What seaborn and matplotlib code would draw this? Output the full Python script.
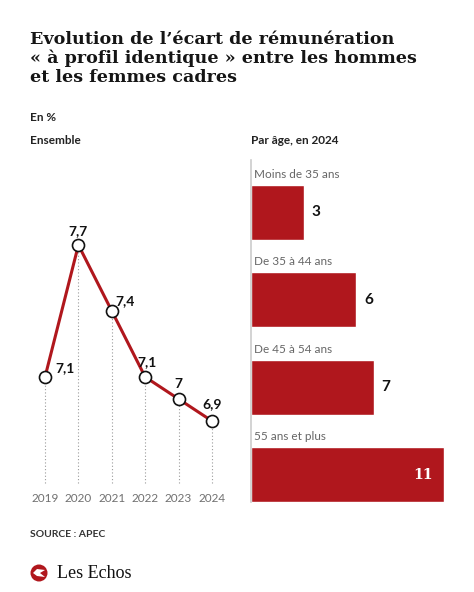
import matplotlib
matplotlib.use("Agg")
import matplotlib.pyplot as plt
import seaborn as sns
import pandas as pd
from matplotlib.patches import Circle, Polygon

# data
years = [2019, 2020, 2021, 2022, 2023, 2024]
gap_all = [7.1, 7.7, 7.4, 7.1, 7.0, 6.9]
gap_labels = ["7,1", "7,7", "7,4", "7,1", "7", "6,9"]

age_groups = ["Moins de 35 ans", "De 35 à 44 ans", "De 45 à 54 ans", "55 ans et plus"]
gap_age = [3, 6, 7, 11]

RED = "#b0171d"
SANS = "Lato"

sns.set_style("white")
plt.rcParams['font.family'] = [SANS, 'DejaVu Sans']

W, H = 474, 592
fig = plt.figure(figsize=(W / 100, H / 100), dpi=100)


def px_rect(x0, y0, x1, y1):
    # pixel box (top-left origin) -> figure coords
    return [x0 / W, 1 - y1 / H, (x1 - x0) / W, (y1 - y0) / H]


# titles
title = ("Evolution de l\u2019écart de rémunération\n"
         "« à profil identique » entre les hommes\n"
         "et les femmes cadres")
fig.text(30 / W, 1 - 31 / H, title, family="DejaVu Serif", weight="bold",
         fontsize=12.6, va="top", ha="left", color="#151515", linespacing=1.12)
fig.text(30 / W, 1 - 121 / H, "En %", weight="bold", fontsize=8.5, color="#222")
fig.text(30 / W, 1 - 144 / H, "Ensemble", weight="bold", fontsize=8.5, color="#222")
fig.text(251 / W, 1 - 144 / H, "Par âge, en 2024", weight="bold", fontsize=8.5, color="#222")

# left: line chart
ax = fig.add_axes(px_rect(28, 223, 230, 487))
df = pd.DataFrame({"year": years, "gap": gap_all})
ax.vlines(df["year"], 6.62, df["gap"], colors="#9a9a9a", linestyles=(0, (1, 2)), lw=0.8, zorder=1)
sns.lineplot(data=df, x="year", y="gap", ax=ax, color=RED, lw=2.2, zorder=2)
sns.scatterplot(data=df, x="year", y="gap", ax=ax, s=75, facecolor="white",
                edgecolor="#111", linewidth=1.2, zorder=3)
offsets = [(10, 9, "left"), (0, 14, "center"), (4, 10, "left"),
           (2, 15, "center"), (0, 15, "center"), (0, 17, "center")]
for yr, v, lab, (dx, dy, ha) in zip(years, gap_all, gap_labels, offsets):
    ax.annotate(lab, (yr, v), xytext=(dx, dy), textcoords="offset pixels",
                ha=ha, va="center", fontsize=10, weight="bold", color="#111")
ax.set_xlim(2018.49, 2024.54)
ax.set_ylim(6.6, 7.8)
ax.set_xticks(years)
ax.set_xticklabels([str(y) for y in years], fontsize=8.5, color="#707070")
ax.tick_params(axis="x", length=0, pad=4)
ax.set_yticks([])
ax.set_xlabel("")
ax.set_ylabel("")
sns.despine(ax=ax, left=True, bottom=True)

# right: bars by age
bx = fig.add_axes(px_rect(251, 160, 470, 502))
dfa = pd.DataFrame({"age": age_groups, "gap": gap_age})
sns.barplot(data=dfa, x="gap", y="age", ax=bx, color=RED, saturation=1,
            width=0.63, orient="h")
bx.set_xlim(0, 12.51)
bx.set_ylim(3.314, -0.6)
for i, (lab, v) in enumerate(zip(age_groups, gap_age)):
    bx.annotate(lab, (0, i - 0.315), xytext=(3, 5), textcoords="offset pixels",
                ha="left", va="bottom", fontsize=8.5, color="#666")
    if v >= 10:
        bx.annotate(str(v), (v, i), xytext=(-11, 0), textcoords="offset pixels",
                    ha="right", va="center", fontsize=10, weight="bold",
                    color="white", family="DejaVu Serif")
    else:
        bx.annotate(str(v), (v, i), xytext=(8, 0), textcoords="offset pixels",
                    ha="left", va="center", fontsize=11, weight="bold", color="#111")
bx.set_xticks([])
bx.set_yticks([])
bx.set_xlabel("")
bx.set_ylabel("")
sns.despine(ax=bx, bottom=True, top=True, right=True)
bx.spines["left"].set_color("#cccccc")
bx.spines["left"].set_linewidth(1.2)

# footer
fig.text(30 / W, 1 - 537 / H, "SOURCE : APEC", weight="bold", fontsize=7.5, color="#333")
tr = fig.dpi_scale_trans
fig.patches.append(Circle((0.39, 0.19), 0.085, transform=tr,
                          facecolor=RED, edgecolor="none"))
fig.patches.append(Polygon([(0.33, 0.19), (0.37, 0.23), (0.45, 0.22), (0.40, 0.19),
                            (0.45, 0.15), (0.37, 0.16)], closed=True, transform=tr,
                           facecolor="white", edgecolor="none"))
fig.text(57 / W, 1 - 578 / H, "Les Echos", family="Liberation Serif", fontsize=13,
         color="#111")

fig.savefig("out.png", dpi=100, facecolor="white")
